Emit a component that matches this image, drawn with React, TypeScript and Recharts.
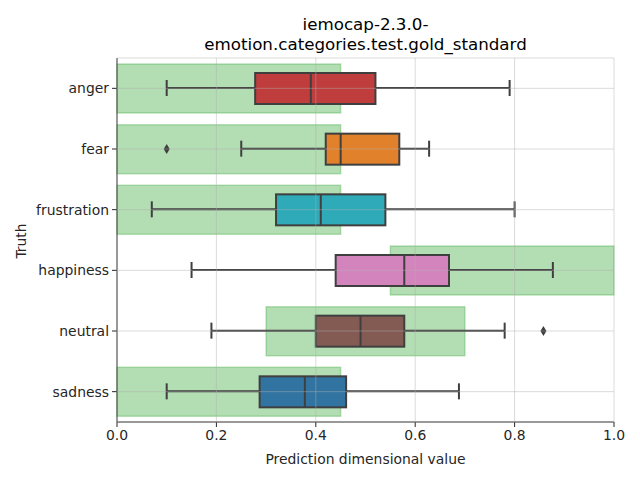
import { ComposedChart, Bar, XAxis, YAxis, CartesianGrid, ReferenceDot } from 'recharts';

const categories = ['anger', 'fear', 'frustration', 'happiness', 'neutral', 'sadness'];
const whiskerLow = [0.10, 0.25, 0.07, 0.15, 0.19, 0.10];
const q1 = [0.278, 0.42, 0.32, 0.44, 0.40, 0.287];
const median = [0.39, 0.45, 0.41, 0.578, 0.49, 0.378];
const q3 = [0.52, 0.568, 0.54, 0.668, 0.578, 0.461];
const whiskerHigh = [0.79, 0.628, 0.80, 0.877, 0.78, 0.688];
const bandLow = [0, 0, 0, 0.55, 0.3, 0];
const bandHigh = [0.45, 0.45, 0.45, 1.0, 0.7, 0.45];
const boxColors = ['#c03d3e', '#e1812c', '#2eaab8', '#d484bd', '#845b53', '#3274a1'];
const outliers = [
  { cat: 'fear', value: 0.1 },
  { cat: 'neutral', value: 0.858 },
];
const xTicks = [0, 0.2, 0.4, 0.6, 0.8, 1.0];

const data = categories.map((name, i) => ({
  name,
  band: [bandLow[i], bandHigh[i]],
  whisker: [whiskerLow[i], whiskerHigh[i]],
  box: [q1[i], q3[i]],
  median: median[i],
  color: boxColors[i],
}));

const EDGE = '#3f3f3f';
const TEXT = '#262626';
const FONT = '"DejaVu Sans", sans-serif';

function BoxShape(props: any) {
  const { x, y, width, height, payload } = props;
  const [lo, hi] = payload.box;
  const mx = x + (width * (payload.median - lo)) / (hi - lo);
  return (
    <g>
      <rect x={x} y={y} width={width} height={height} fill={payload.color} stroke={EDGE} strokeWidth={2} />
      <line x1={mx} x2={mx} y1={y} y2={y + height} stroke={EDGE} strokeWidth={2} />
    </g>
  );
}

function WhiskerShape(props: any) {
  const { x, y, width, height } = props;
  const cy = y + height / 2;
  return (
    <g stroke={EDGE} strokeWidth={2}>
      <line x1={x} x2={x + width} y1={cy} y2={cy} />
      <line x1={x} x2={x} y1={y} y2={y + height} />
      <line x1={x + width} x2={x + width} y1={y} y2={y + height} />
    </g>
  );
}

function Diamond(props: any) {
  const { cx, cy } = props;
  return <path d={`M${cx},${cy - 5} L${cx + 3},${cy} L${cx},${cy + 5} L${cx - 3},${cy} Z`} fill={EDGE} />;
}

export default function App() {
  return (
    <div style={{ position: 'absolute', left: 0, top: 0, width: 640, height: 480, background: '#fff', fontFamily: FONT }}>
      <div style={{ position: 'absolute', left: 117, width: 497, top: 14, textAlign: 'center', fontSize: 16.7, lineHeight: '20px', color: '#000' }}>
        iemocap-2.3.0-<br />emotion.categories.test.gold_standard
      </div>
      <div style={{ position: 'absolute', left: 20.5, top: 241, transform: 'translate(-50%, -50%) rotate(-90deg)', fontSize: 13.9, color: TEXT }}>
        Truth
      </div>
      <ComposedChart
        width={640}
        height={480}
        data={data}
        layout="vertical"
        margin={{ top: 58, right: 26, bottom: 0, left: 0 }}
        barCategoryGap={0}
      >
        <XAxis
          type="number"
          domain={[0, 1]}
          ticks={xTicks}
          tickFormatter={(v: number) => v.toFixed(1)}
          height={58}
          tickSize={5}
          tickMargin={3}
          stroke={TEXT}
          tick={{ fill: TEXT, fontSize: 13.9, fontFamily: FONT }}
          label={{ value: 'Prediction dimensional value', position: 'insideBottom', offset: 16, fill: TEXT, fontSize: 13.9, fontFamily: FONT }}
        />
        <YAxis
          type="category"
          dataKey="name"
          width={117}
          tickSize={5}
          tickMargin={3}
          stroke={TEXT}
          tick={{ fill: TEXT, fontSize: 13.9, fontFamily: FONT }}
        />
        <YAxis yAxisId="w" type="category" dataKey="name" hide />
        <YAxis yAxisId="b" type="category" dataKey="name" hide />
        <Bar dataKey="band" barSize={49} fill="#2ca02c" fillOpacity={0.36} stroke="#2ca02c" strokeOpacity={0.3} strokeWidth={1.5} isAnimationActive={false} />
        <Bar yAxisId="w" dataKey="whisker" barSize={16} shape={<WhiskerShape />} isAnimationActive={false} />
        <Bar yAxisId="b" dataKey="box" barSize={31} shape={<BoxShape />} isAnimationActive={false} />
        {outliers.map((o) => (
          <ReferenceDot key={o.cat} x={o.value} y={o.cat} r={4} shape={<Diamond />} />
        ))}
        <CartesianGrid stroke="#b0b0b0" strokeOpacity={0.45} strokeWidth={1} zIndex={1000} />
      </ComposedChart>
    </div>
  );
}
